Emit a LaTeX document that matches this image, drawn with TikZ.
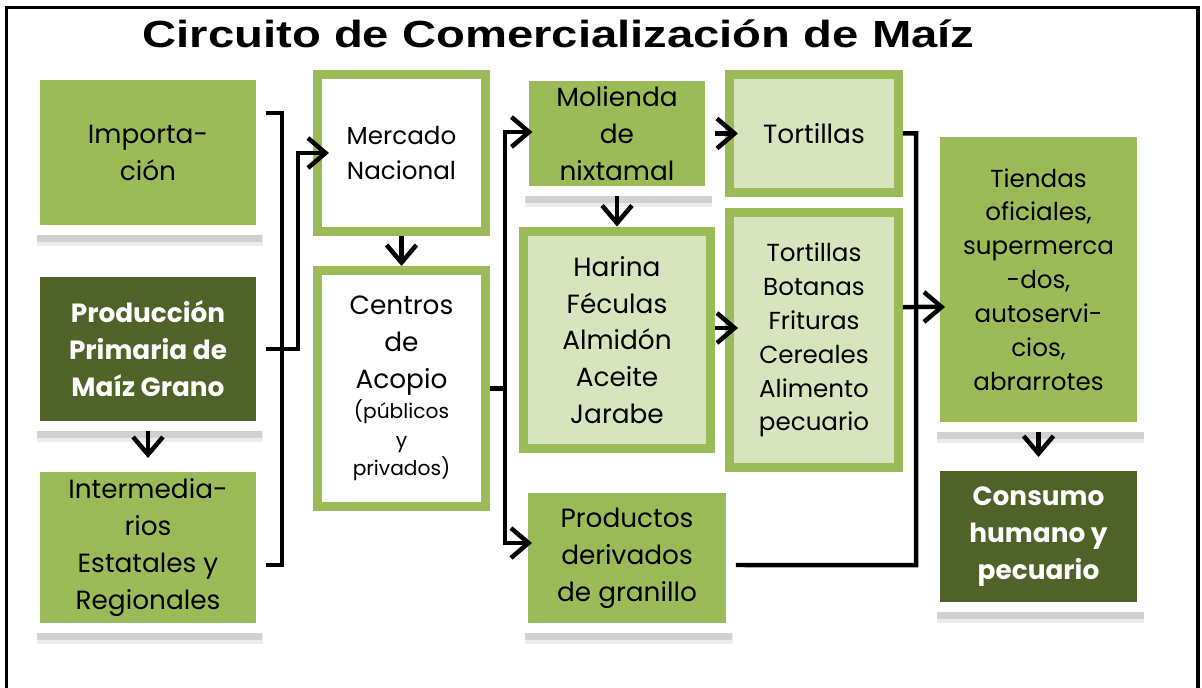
\documentclass[tikz,border=0pt]{standalone}
\usepackage{fontspec}
\setmainfont{Poppins}
\newfontfamily\titlefont[FakeStretch=1.25]{Liberation Sans}
\usepackage{tikz}
\usetikzlibrary{arrows.meta, shadows}
\definecolor{grLight}{HTML}{9BBB59}
\definecolor{grDark}{HTML}{4F6228}
\definecolor{grPale}{HTML}{D7E4BD}
\newcommand{\bigtxt}{\fontsize{15}{21}\selectfont}
\newcommand{\midtxt}{\fontsize{14}{19.3}\selectfont}
\newcommand{\smalltxt}{\fontsize{11.5}{16.3}\selectfont}

\begin{document}
\begin{tikzpicture}[x=0.02cm, y=-0.02cm, >={Straight Barb[length=10pt,width=17pt]},
  framebox/.style={draw=white, line width=0.2cm, inner sep=0pt, align=center, font=\bigtxt,
    drop shadow={shadow xshift=0.04cm, shadow yshift=-0.32cm, opacity=0.15},
    drop shadow={shadow xshift=0.03cm, shadow yshift=-0.24cm, opacity=0.25}},
  lightbox/.style={framebox, fill=grLight, text=black},
  darkbox/.style={framebox, fill=grDark, text=white, font=\bigtxt\bfseries},
  edgebox/.style={draw=grLight, line width=0.18cm, inner sep=0pt, align=center, font=\bigtxt},
  link/.style={line width=0.09cm},
  arrow/.style={link, ->}]
\useasboundingbox (0,0) rectangle (1202,688);
\draw[line width=0.07cm] (6.5,690) -- (6.5,7.5) -- (1198,7.5) -- (1198,690);
\node[anchor=base, font=\titlefont\bfseries\fontsize{21.5}{24}\selectfont] (title) at (558.5,48) {Circuito de Comercialización de Maíz};

\node[lightbox, minimum width=4.52cm, minimum height=3.10cm] (imp) at (148,152.5) {Importa-\\ción};
\node[darkbox, minimum width=4.52cm, minimum height=3.08cm] (prod) at (148,349) {Producción\\Primaria de\\Maíz Grano};
\node[lightbox, minimum width=4.52cm, minimum height=3.22cm] (inter) at (148,547.5) {Intermedia-\\rios\\Estatales y\\Regionales};

\node[edgebox, fill=white, minimum width=3.36cm, minimum height=3.14cm, font=\fontsize{14}{20}\selectfont] (merc) at (401.5,153) {Mercado\\Nacional};
\node[edgebox, fill=white, minimum width=3.36cm, minimum height=4.72cm] (centros) at (401.5,388.5)
  {Centros\\de\\Acopio\\[-4pt]{\smalltxt(públicos}\\[-4.5pt]{\smalltxt y}\\[-4.5pt]{\smalltxt privados)}};

\node[lightbox, minimum width=3.74cm, minimum height=2.30cm] (mol) at (617,133.5) {Molienda\\de\\nixtamal};
\node[edgebox, fill=grPale, minimum width=3.76cm, minimum height=4.36cm] (harina) at (617,340) {Harina\\Féculas\\Almidón\\Aceite\\Jarabe};
\node[lightbox, minimum width=4.16cm, minimum height=2.80cm] (prodder) at (627,558) {Productos\\derivados\\de granillo};

\node[edgebox, fill=grPale, minimum width=3.38cm, minimum height=2.36cm] (tort1) at (814,133.5) {Tortillas};
\node[edgebox, fill=grPale, minimum width=3.38cm, minimum height=5.10cm, font=\midtxt] (tort2) at (814,340) {Tortillas\\Botanas\\Frituras\\Cereales\\Alimento\\pecuario};

\node[lightbox, minimum width=4.14cm, minimum height=5.90cm, font=\midtxt] (tiendas) at (1038.5,279.5) {Tiendas\\oficiales,\\supermerca\\-dos,\\autoservi-\\cios,\\abrarrotes};
\node[darkbox, minimum width=4.14cm, minimum height=2.82cm] (consumo) at (1038.5,536.5) {Consumo\\humano y\\pecuario};

\coordinate (jl) at (282,348);
\coordinate (jp) at (298,349);
\coordinate (jc) at (505,388.5);
\coordinate (jr) at (916,565);

\draw[link] ([yshift=0.79cm]imp.east) -| (jl) |- ([yshift=-0.35cm]inter.east);
\draw[arrow] (prod.east) -- (jp) |- ([xshift=0.32cm]merc.west);
\draw[arrow] (prod.south) -- ([yshift=0.08cm]inter.north);
\draw[arrow] (merc.south) -- (centros.north);
\draw[link] (centros.east) -- (jc);
\draw[arrow] (jc) |- ([xshift=0.28cm,yshift=0.03cm]mol.west);
\draw[arrow] (jc) |- ([xshift=0.28cm,yshift=0.3cm]prodder.west);
\draw[arrow] (mol.east) -- ([xshift=0.26cm]tort1.west);
\draw[arrow] (mol.south) -- (harina.north);
\draw[arrow] ([yshift=0.24cm]harina.east) -- ([xshift=0.26cm,yshift=0.24cm]tort2.west);
\draw[link] (tort1.east) -| (jr) -- ([yshift=-0.14cm]prodder.east);
\draw[arrow] ([yshift=0.66cm]tort2.east) -- ([xshift=0.3cm,yshift=-0.55cm]tiendas.west);
\draw[arrow] (tiendas.south) -- ([yshift=0.08cm]consumo.north);
\end{tikzpicture}
\end{document}
